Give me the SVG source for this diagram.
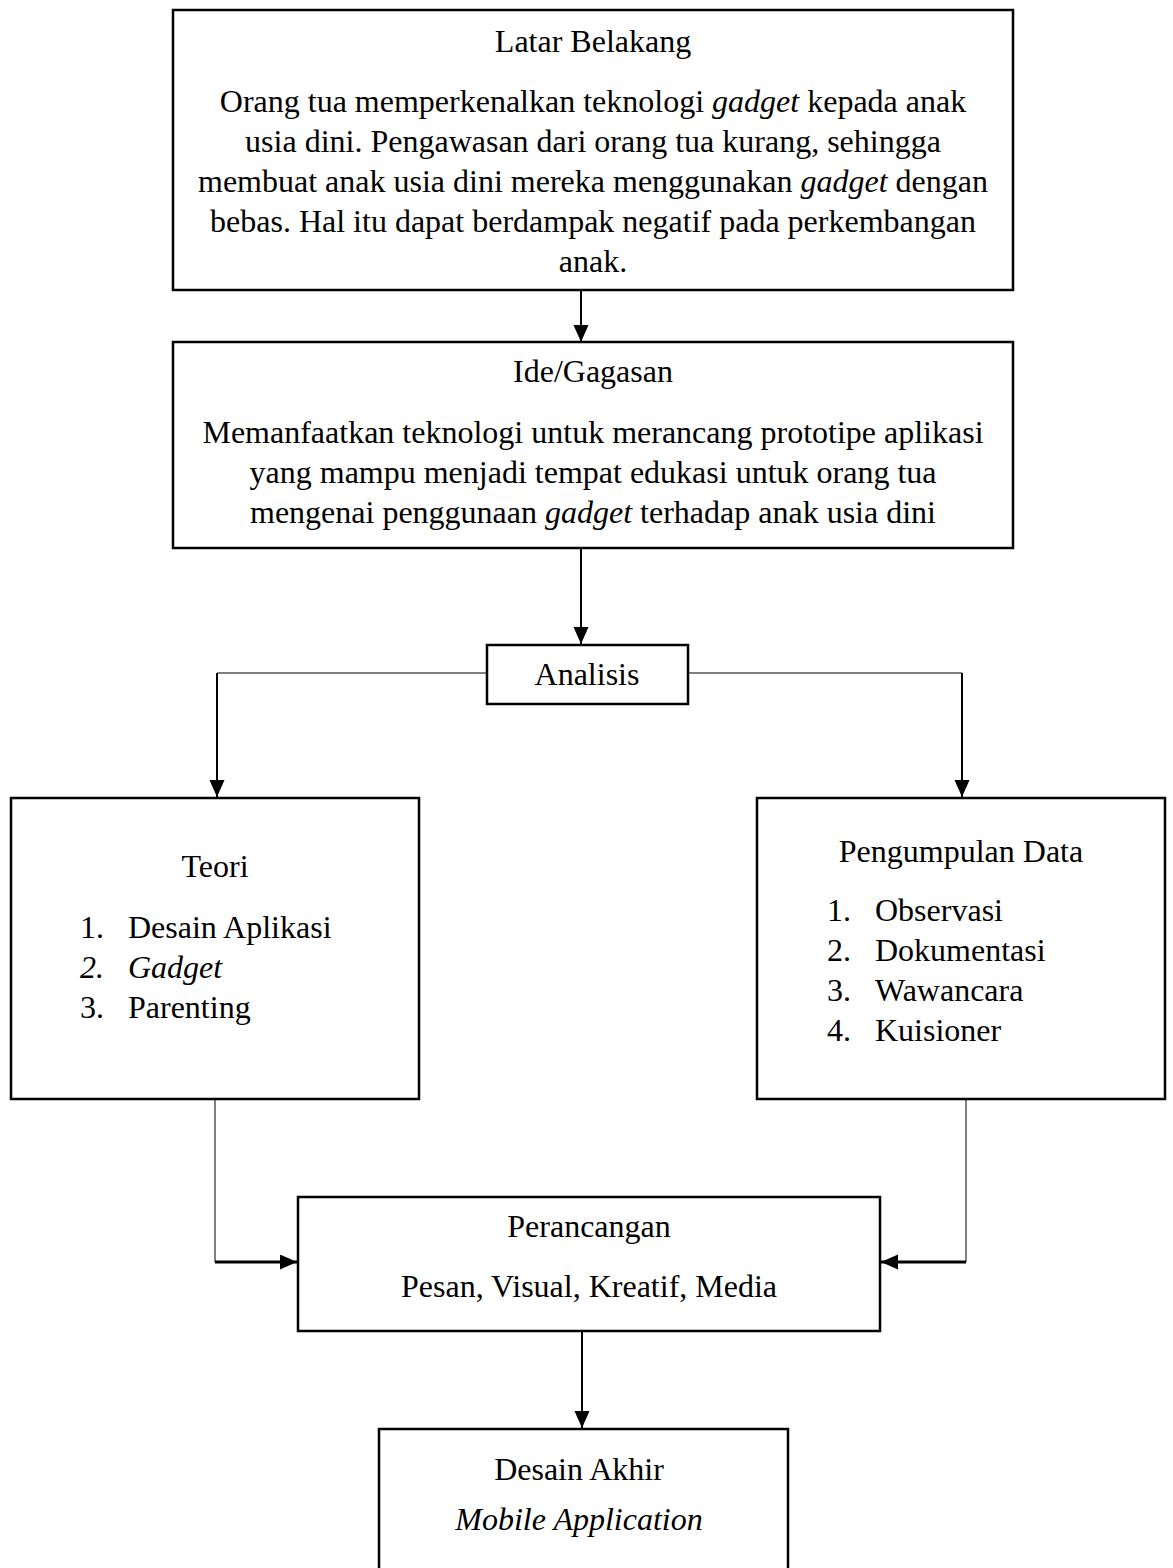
<svg xmlns="http://www.w3.org/2000/svg" width="1173" height="1568" viewBox="0 0 1173 1568">
<style>
  .box { fill: #ffffff; stroke: #000000; stroke-width: 2.5; }
  .t { font-family: "Liberation Serif", "Times New Roman", serif; font-size: 32px; fill: #000000; }
  .c { text-anchor: middle; }
  .i { font-style: italic; }
  .ln { fill: none; stroke: #000000; }
</style>
<defs>
  <marker id="ah" markerUnits="userSpaceOnUse" markerWidth="18" markerHeight="16" refX="17" refY="7.5" orient="auto">
    <path d="M0,0 L17,7.5 L0,15 z" fill="#000000"/>
  </marker>
</defs>
<rect width="1173" height="1568" fill="#ffffff"/>

<g id="connectors">
  <path class="ln" stroke-width="2" d="M581,291 L581,342" marker-end="url(#ah)"/>
  <path class="ln" stroke-width="2" d="M581,549 L581,644" marker-end="url(#ah)"/>
  <path class="ln" stroke-width="1" d="M487,673 L217,673"/>
  <path class="ln" stroke-width="2" d="M217,673 L217,797" marker-end="url(#ah)"/>
  <path class="ln" stroke-width="1" d="M688,673 L962,673"/>
  <path class="ln" stroke-width="2" d="M962,673 L962,797" marker-end="url(#ah)"/>
  <path class="ln" stroke-width="1" d="M215,1100 L215,1262"/>
  <path class="ln" stroke-width="3" d="M215,1262 L297,1262" marker-end="url(#ah)"/>
  <path class="ln" stroke-width="1" d="M966,1100 L966,1262"/>
  <path class="ln" stroke-width="3" d="M966,1262 L881,1262" marker-end="url(#ah)"/>
  <path class="ln" stroke-width="2" d="M582,1332 L582,1428" marker-end="url(#ah)"/>
</g>

<g id="latar-belakang">
  <rect class="box" x="173" y="10" width="840" height="280"/>
  <text class="t c" x="593" y="52">Latar Belakang</text>
  <text class="t c" x="593" y="112">Orang tua memperkenalkan teknologi <tspan class="i">gadget</tspan> kepada anak</text>
  <text class="t c" x="593" y="152">usia dini. Pengawasan dari orang tua kurang, sehingga</text>
  <text class="t c" x="593" y="192">membuat anak usia dini mereka menggunakan <tspan class="i">gadget</tspan> dengan</text>
  <text class="t c" x="593" y="232">bebas. Hal itu dapat berdampak negatif pada perkembangan</text>
  <text class="t c" x="593" y="272">anak.</text>
</g>

<g id="ide-gagasan">
  <rect class="box" x="173" y="342" width="840" height="206"/>
  <text class="t c" x="593" y="382">Ide/Gagasan</text>
  <text class="t c" x="593" y="443">Memanfaatkan teknologi untuk merancang prototipe aplikasi</text>
  <text class="t c" x="593" y="483">yang mampu menjadi tempat edukasi untuk orang tua</text>
  <text class="t c" x="593" y="523">mengenai penggunaan <tspan class="i">gadget</tspan> terhadap anak usia dini</text>
</g>

<g id="analisis">
  <rect class="box" x="487" y="645" width="201" height="59"/>
  <text class="t c" x="587" y="685">Analisis</text>
</g>

<g id="teori">
  <rect class="box" x="11" y="798" width="408" height="301"/>
  <text class="t c" x="215" y="877">Teori</text>
  <text class="t" x="80" y="938">1.</text>
  <text class="t" x="128" y="938">Desain Aplikasi</text>
  <text class="t i" x="80" y="978">2.</text>
  <text class="t i" x="128" y="978">Gadget</text>
  <text class="t" x="80" y="1018">3.</text>
  <text class="t" x="128" y="1018">Parenting</text>
</g>

<g id="pengumpulan-data">
  <rect class="box" x="757" y="798" width="408" height="301"/>
  <text class="t c" x="961" y="862">Pengumpulan Data</text>
  <text class="t" x="827" y="921">1.</text>
  <text class="t" x="875" y="921">Observasi</text>
  <text class="t" x="827" y="961">2.</text>
  <text class="t" x="875" y="961">Dokumentasi</text>
  <text class="t" x="827" y="1001">3.</text>
  <text class="t" x="875" y="1001">Wawancara</text>
  <text class="t" x="827" y="1041">4.</text>
  <text class="t" x="875" y="1041">Kuisioner</text>
</g>

<g id="perancangan">
  <rect class="box" x="298" y="1197" width="582" height="134"/>
  <text class="t c" x="589" y="1237">Perancangan</text>
  <text class="t c" x="589" y="1297">Pesan, Visual, Kreatif, Media</text>
</g>

<g id="desain-akhir">
  <rect class="box" x="379" y="1429" width="409" height="160"/>
  <text class="t c" x="579" y="1480">Desain Akhir</text>
  <text class="t c i" x="579" y="1530">Mobile Application</text>
</g>
</svg>
